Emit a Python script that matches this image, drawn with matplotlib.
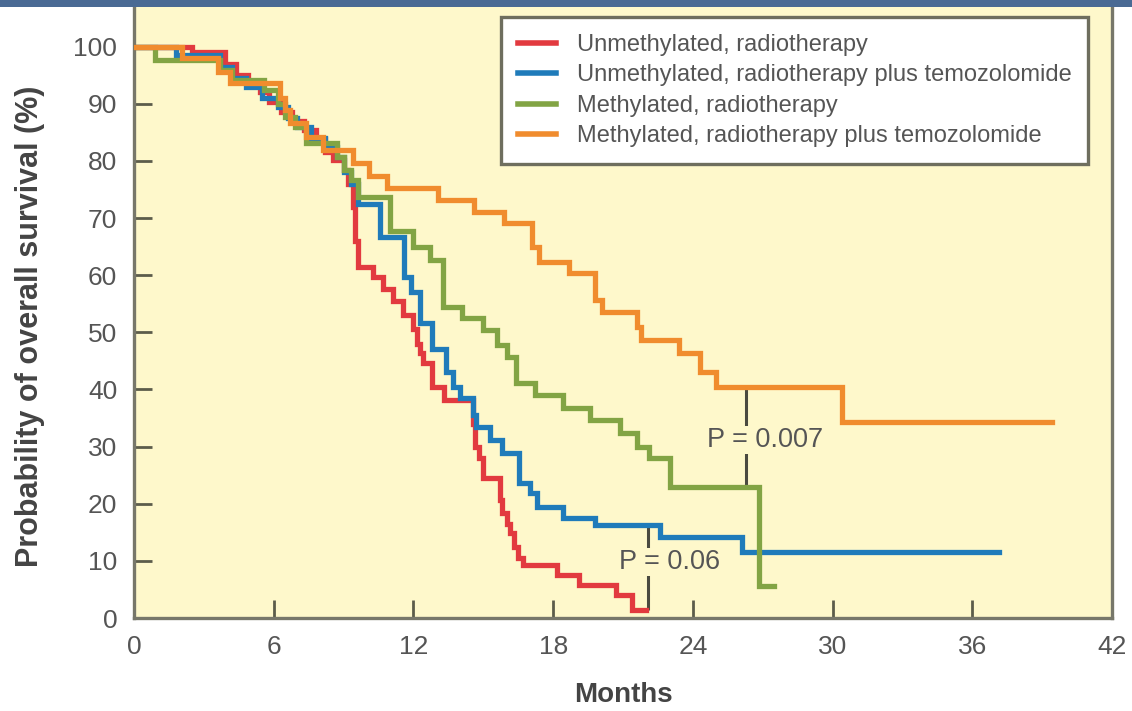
import matplotlib
matplotlib.use("Agg")
import matplotlib.pyplot as plt
from matplotlib.patches import Rectangle

plt.rcParams['font.family'] = ['Liberation Sans', 'DejaVu Sans']

# Kaplan-Meier step data (months, % surviving)
red_months = [0, 2.5, 3.9, 4.4, 4.9, 5.4, 5.8, 6.3, 6.8, 7.3, 7.8, 8.2, 8.55, 9.0, 9.2, 9.4, 9.5,
              9.6, 10.25, 10.7, 11.1, 11.55, 12.0, 12.15, 12.3, 12.4, 12.8, 13.3, 14.55, 14.65,
              14.8, 15.0, 15.7, 15.8, 16.0, 16.15, 16.3, 16.5, 16.7, 18.15, 19.1, 20.7, 21.4]
red_pct = [100, 99, 97, 95, 93.5, 92, 90.3, 88.5, 87, 85.5, 83.8, 81.5, 80.2, 78.5, 76, 72, 66,
           61.5, 59.7, 57.6, 55.4, 53, 50.5, 48, 46.4, 44.6, 40.5, 38.2, 34, 30,
           28, 24.5, 20.7, 18.4, 16.5, 14.9, 12.4, 10.5, 9.3, 7.5, 5.8, 4, 1.4]
red_end = 22.0

blue_months = [0, 1.8, 3.7, 4.2, 4.8, 5.5, 6.2, 6.6, 7.0, 7.6, 8.2, 8.7, 9.0, 9.3, 9.6, 10.55,
               11.6, 11.9, 12.3, 12.8, 13.4, 13.7, 14.0, 14.55, 14.7, 15.3, 15.8, 16.55, 17.0,
               17.3, 18.4, 19.8, 22.6, 26.1]
blue_pct = [100, 98.5, 96.5, 94.5, 93, 91, 89.5, 87.5, 86, 84, 82.5, 80.7, 78, 76, 72.5, 66.7,
            59.7, 57, 51.6, 47, 43, 40.5, 38.5, 35.5, 33.5, 31.2, 28.9, 23.6, 21.9,
            19.4, 17.5, 16.3, 14.2, 11.6]
blue_end = 37.15

green_months = [0, 0.9, 3.7, 4.2, 5.6, 6.2, 6.5, 6.9, 7.4, 8.7, 9.0, 9.3, 9.6, 11.0, 12.0, 12.7,
                13.25, 14.1, 15.0, 15.6, 16.0, 16.4, 17.2, 18.4, 19.6, 20.85, 21.6, 22.1, 23.0,
                26.85]
green_pct = [100, 97.7, 96, 94.2, 92.5, 90, 87.7, 86, 83.2, 80.7, 78.5, 76.7, 73.7, 67.7, 65, 62.7,
             54.5, 52.5, 50.4, 47.8, 45.7, 41.1, 39, 36.8, 34.7, 32.4, 30, 28, 23, 5.6]
green_end = 27.5

orange_months = [0, 2.06, 3.6, 4.1, 6.26, 6.5, 6.7, 7.4, 8.1, 9.4, 10.1, 10.85, 13.05, 14.6,
                 15.9, 17.1, 17.4, 18.7, 19.8, 20.1, 21.6, 21.75, 23.4, 24.3, 25.0, 30.4]
orange_pct = [100, 98, 95.5, 93.7, 91, 89, 86.7, 84.2, 82, 79.7, 77.3, 75.3, 73.2, 71.1,
              69.2, 65, 62.3, 60.4, 55.7, 53.6, 51, 48.7, 46.4, 43.1, 40.4, 34.3]
orange_end = 39.4

labels = ["Unmethylated, radiotherapy",
          "Unmethylated, radiotherapy plus temozolomide",
          "Methylated, radiotherapy",
          "Methylated, radiotherapy plus temozolomide"]
colors = ["#e23a3f", "#1f7bba", "#82a444", "#f08c2e"]

# p-value brackets: (month, top %, bottom %, text x, text y, text)
p_06 = (22.05, 16.3, 1.4, 23.0, 9.8, "P = 0.06")
p_007 = (26.3, 40.4, 23.0, 27.1, 31.2, "P = 0.007")

xticks = [0, 6, 12, 18, 24, 30, 36, 42]
yticks = [0, 10, 20, 30, 40, 50, 60, 70, 80, 90, 100]

bg = "#fef8cb"
spine_col = "#77776a"
tick_col = "#5c5c4a"
text_col = "#555555"

fig = plt.figure(figsize=(11.32, 7.11), dpi=100)
ax = fig.add_axes([0.1184, 0.1308, 0.8640, 0.8622])
ax.set_facecolor(bg)

series = [(red_months, red_pct, red_end), (blue_months, blue_pct, blue_end),
          (green_months, green_pct, green_end), (orange_months, orange_pct, orange_end)]
for (m, p, end), c, lab in zip(series, colors, labels):
    ax.step(m + [end], p + [p[-1]], where='post', color=c, lw=3.8, label=lab,
            solid_joinstyle='miter', zorder=3)

for xm, top, bot, tx, ty, txt in [p_06, p_007]:
    ax.vlines(xm, bot, top, color="#4a4a40", lw=2.2, zorder=2)
    ax.text(tx, ty, txt, fontsize=19.5, color=text_col, ha='center', va='center', zorder=4,
            bbox=dict(facecolor=bg, edgecolor='none', pad=0.5))

ax.set_xlim(0, 42)
ax.set_ylim(0, 107.3)
ax.set_xticks(xticks)
ax.set_yticks(yticks)
ax.tick_params(direction='in', length=13, width=2.0, color=tick_col, labelcolor=text_col,
               labelsize=19)
ax.tick_params(axis='x', pad=12)
ax.tick_params(axis='y', pad=12)

ax.spines['top'].set_visible(False)
for s in ['left', 'bottom', 'right']:
    ax.spines[s].set_color(spine_col)
    ax.spines[s].set_linewidth(2.4)

ax.set_xlabel("Months", fontsize=20, fontweight='bold', color="#444444", labelpad=17)
ax.set_ylabel("Probability of overall survival (%)", fontsize=22, fontweight='bold',
              color="#444444")
ax.yaxis.set_label_coords(-0.091, 0.476)

leg = ax.legend(loc='upper right', bbox_to_anchor=(0.9755, 0.980), borderaxespad=0,
                fontsize=17, frameon=True, fancybox=False, framealpha=1,
                handlelength=1.6, handletextpad=0.9, labelspacing=0.36, borderpad=0.7)
leg.get_frame().set_edgecolor("#6e6e5e")
leg.get_frame().set_linewidth(2.4)
for t in leg.get_texts():
    t.set_color(text_col)
for h in leg.get_lines():
    h.set_linewidth(4)

fig.add_artist(Rectangle((0, 1 - 7 / 711), 1, 7 / 711, transform=fig.transFigure,
                         facecolor="#4a6a94", edgecolor='none', zorder=10))

fig.savefig("out.png", dpi=100, facecolor='white')
